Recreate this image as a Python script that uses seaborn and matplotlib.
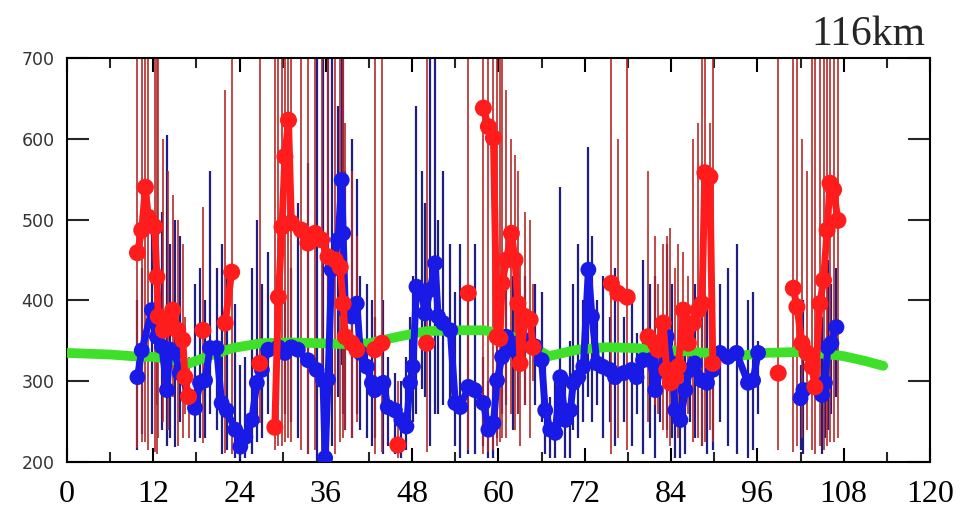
import numpy as np
import pandas as pd
import matplotlib
matplotlib.use("Agg")
import matplotlib.pyplot as plt
from matplotlib.ticker import MultipleLocator
import seaborn as sns

# green reference curve
green_x = [0, 3, 6, 9, 12, 15, 17, 20, 23, 27, 31, 35, 38, 42, 46, 50, 54, 58, 61, 64,
           67, 71, 75, 79, 82, 86, 89, 93, 97, 101, 104, 108, 111, 113.5]
green_y = [335, 334, 333, 331, 330, 326, 322, 332, 341, 347, 348, 347, 346, 347, 355, 362,
           363, 363, 358, 347, 331, 339, 342, 341, 339, 337, 335, 331, 335, 336, 335, 331,
           325, 319]

# blue series: value, lower and upper end of error bar
blue_x = [9.8, 10.4, 11.8, 12.5, 13.2, 13.9, 14.3, 15.0, 15.7, 17.8, 18.5, 19.2, 19.9, 20.8,
          21.5, 22.2, 23.4, 24.1, 24.8, 25.7, 26.4, 27.1, 28.0, 29.4, 30.3, 31.2, 32.1, 33.5,
          34.7, 35.6, 35.9, 36.3, 36.8, 37.7, 38.2, 38.4, 38.7, 39.6, 40.3, 40.8, 41.7, 42.4,
          42.8, 44.0, 44.6, 45.6, 46.5, 47.2, 47.7, 48.1, 48.6, 49.3, 49.8, 50.5, 51.2, 51.6,
          52.3, 53.3, 54.0, 54.7, 55.8, 56.7, 57.9, 58.6, 59.3, 59.8, 60.5, 61.1, 62.0, 62.7,
          63.7, 65.1, 66.0, 66.5, 67.2, 67.9, 68.6, 69.3, 70.0, 70.4, 71.1, 71.8, 72.5, 73.0,
          73.7, 74.5, 75.5, 76.2, 77.4, 78.5, 79.2, 80.1, 81.1, 81.8, 82.5, 83.4, 84.1, 84.6,
          85.3, 86.0, 86.6, 87.3, 88.3, 89.0, 89.8, 90.8, 91.9, 93.1, 94.7, 95.4, 96.1,
          102.0, 102.4, 105.0, 105.4, 105.8, 106.3, 107.0]
blue_y = [305, 338, 388, 355, 343, 289, 339, 335, 310, 267, 298, 301, 341, 341,
          273, 264, 240, 219, 231, 252, 298, 314, 339, 342, 335, 342, 339, 326,
          314, 301, 205, 302, 438, 475, 549, 483, 388, 380, 396, 335, 318, 298,
          289, 298, 268, 264, 252, 244, 298, 318, 417, 409, 384, 413, 446, 380,
          372, 363, 273, 268, 293, 289, 273, 240, 248, 301, 330, 355, 339, 347,
          351, 343, 326, 264, 240, 236, 305, 252, 264, 298, 305, 318, 438, 380,
          322, 318, 314, 305, 310, 314, 305, 326, 326, 289, 314, 355, 322, 264,
          252, 289, 314, 322, 301, 298, 314, 335, 330, 335, 298, 301, 335,
          279, 289, 283, 298, 342, 347, 367]
blue_lo = [215, 235, 235, 270, 240, 220, 230, 219, 250, 225, 230, 230, 260, 240,
           210, 215, 205, 203, 205, 210, 225, 230, 260, 270, 260, 250, 230, 210,
           200, 200, 200, 200, 220, 280, 320, 260, 240, 230, 260, 240, 230, 220,
           230, 210, 220, 210, 205, 215, 240, 250, 260, 290, 280, 220, 260, 260,
           270, 270, 220, 205, 210, 210, 220, 205, 205, 230, 260, 270, 240, 260,
           270, 270, 250, 210, 205, 205, 240, 205, 205, 240, 230, 250, 280, 250,
           270, 230, 250, 220, 250, 220, 260, 210, 230, 205, 250, 240, 230, 205,
           205, 210, 250, 230, 220, 210, 215, 250, 220, 210, 205, 215, 260,
           215, 210, 210, 230, 240, 260, 280]
blue_hi = [400, 440, 500, 460, 510, 605, 470, 500, 480, 420, 440, 400, 560, 440,
           470, 440, 395, 320, 330, 440, 500, 420, 460, 420, 400, 440, 520, 570,
           720, 720, 260, 720, 720, 640, 720, 700, 560, 600, 550, 430, 420, 400,
           380, 400, 330, 310, 300, 330, 380, 430, 640, 560, 520, 720, 700, 500,
           560, 470, 410, 470, 400, 470, 330, 300, 310, 380, 400, 460, 430, 440,
           430, 420, 410, 330, 280, 300, 540, 310, 350, 420, 470, 400, 590, 480,
           400, 430, 380, 440, 380, 410, 360, 450, 420, 430, 380, 470, 420, 330,
           310, 390, 380, 420, 380, 390, 430, 420, 440, 470, 400, 410, 350,
           320, 400, 380, 340, 450, 420, 440]
blue_breaks = [96.1, 102.4]

# red series
red_x = [9.8, 10.4, 10.9, 11.3, 12.2, 12.5, 12.7, 13.4, 14.0, 14.7, 15.4, 16.1, 16.4, 16.9,
         18.9, 22.0, 22.9, 26.8,
         28.9, 29.4, 29.9, 30.3, 30.8, 31.2, 32.6, 33.5, 34.5, 35.4, 36.3, 37.3, 38.0, 38.4,
         38.7, 39.6, 40.3, 42.8, 43.8, 46.0, 50.0, 55.8,
         57.9, 58.6, 59.3, 59.8, 60.2, 60.5, 61.1, 61.8, 62.3, 62.7, 63.0, 63.7, 64.4, 64.8,
         75.7, 76.6, 77.9,
         80.8, 81.8, 82.2, 82.9, 83.4, 83.9, 84.6, 85.0, 85.7, 86.4, 87.1, 87.8, 88.3, 88.7,
         89.4, 89.8, 98.9,
         101.0, 101.5, 102.2, 102.9, 103.6, 104.0, 104.7, 105.2, 105.7, 106.1, 106.6, 107.2]
red_y = [459, 487, 540, 503, 491, 429, 380, 363, 372, 388, 363, 351, 305, 281,
         363, 372, 435, 322,
         243, 404, 491, 578, 623, 496, 487, 471, 483, 475, 454, 450, 441, 396,
         355, 347, 339, 339, 347, 221, 347, 409,
         638, 615, 601, 355, 353, 421, 450, 483, 450, 396, 322, 380, 376, 342,
         421, 409, 404,
         355, 347, 339, 372, 314, 298, 305, 318, 388, 347, 372, 388, 396, 558,
         553, 322, 310,
         415, 392, 347, 335, 318, 293, 396, 425, 487, 545, 537, 499]
red_lo = [217, 225, 225, 215, 212, 210, 230, 250, 240, 280, 220, 230, 260, 230,
          223, 211, 210, 248,
          215, 220, 220, 225, 230, 225, 215, 210, 215, 212, 215, 210, 225, 230,
          240, 230, 250, 210, 212, 205, 212, 215,
          210, 212, 215, 220, 225, 230, 230, 260, 240, 260, 220, 270, 230, 300,
          210, 230, 215,
          250, 270, 260, 240, 230, 220, 250, 230, 245, 260, 225, 230, 220, 225,
          240, 225, 215,
          212, 220, 230, 240, 215, 210, 220, 215, 220, 225, 225, 230]
red_hi = [720, 720, 720, 720, 720, 720, 720, 600, 560, 530, 500, 470, 380, 330,
          516, 660, 720, 720,
          720, 720, 720, 720, 720, 720, 720, 720, 720, 720, 720, 720, 720, 720,
          620, 560, 480, 720, 720, 300, 720, 720,
          720, 720, 720, 720, 720, 720, 660, 600, 580, 560, 450, 510, 500, 420,
          720, 600, 720,
          560, 480, 420, 470, 480, 490, 440, 470, 460, 430, 600, 620, 720, 720,
          620, 720, 720,
          720, 720, 600, 560, 720, 720, 720, 720, 720, 720, 720, 720]
red_breaks = [16.9, 18.9, 22.9, 26.8, 40.3, 43.8, 46.0, 50.0, 55.8, 64.8, 77.9, 89.8, 98.9]

x_ticks = [0, 12, 24, 36, 48, 60, 72, 84, 96, 108, 120]
y_ticks = [200, 300, 400, 500, 600, 700]

sns.set_style("white")

blue = pd.DataFrame({"x": blue_x, "y": blue_y})
blue["seg"] = np.searchsorted(blue_breaks, blue["x"], side="left")
red = pd.DataFrame({"x": red_x, "y": red_y})
red["seg"] = np.searchsorted(red_breaks, red["x"], side="left")
green = pd.DataFrame({"x": green_x, "y": green_y})

fig = plt.figure(figsize=(9.68, 5.17), dpi=100)
ax = fig.add_axes([0.0692, 0.1064, 0.8915, 0.7814])

ax.vlines(blue_x, blue_lo, blue_hi, color="#1e1e86", lw=1.6, zorder=2)
ax.vlines(red_x, red_lo, red_hi, color="#b52a2a", lw=1.2, zorder=2.1)

sns.lineplot(data=green, x="x", y="y", color="#3ee02a", lw=7, ax=ax, zorder=3,
             solid_capstyle="round")
sns.lineplot(data=blue, x="x", y="y", units="seg", estimator=None, sort=False,
             color="#1a1ae6", lw=5, ax=ax, zorder=4)
sns.scatterplot(data=blue, x="x", y="y", color="#1a1ae6", s=130, edgecolor="none",
                ax=ax, zorder=4.5)
sns.lineplot(data=red, x="x", y="y", units="seg", estimator=None, sort=False,
             color="#ff1c1c", lw=5, ax=ax, zorder=5)
sns.scatterplot(data=red, x="x", y="y", color="#ff1c1c", s=150, edgecolor="none",
                ax=ax, zorder=5.5)

ax.set_xlim(0, 120)
ax.set_ylim(200, 700)
ax.set_xticks(x_ticks)
ax.set_yticks(y_ticks)
ax.xaxis.set_minor_locator(MultipleLocator(6))
ax.set_xlabel("")
ax.set_ylabel("")

ax.tick_params(axis="x", which="major", direction="in", top=True, bottom=True,
               length=10, width=1.5, pad=13, labelsize=23, colors="black")
ax.tick_params(axis="x", which="minor", direction="in", top=True, bottom=True,
               length=7, width=1.5)
ax.tick_params(axis="y", which="major", direction="in", left=True, right=True,
               length=16, width=1.5, pad=9, labelsize=12.5, labelcolor="#333333")
for lab in ax.get_xticklabels():
    lab.set_family("Liberation Serif")
for sp in ax.spines.values():
    sp.set_color("black")
    sp.set_linewidth(1.5)

fig.text(0.956, 0.913, "116km", ha="right", va="baseline", fontsize=30,
         family="Liberation Serif")

fig.savefig("out.png", dpi=100)
